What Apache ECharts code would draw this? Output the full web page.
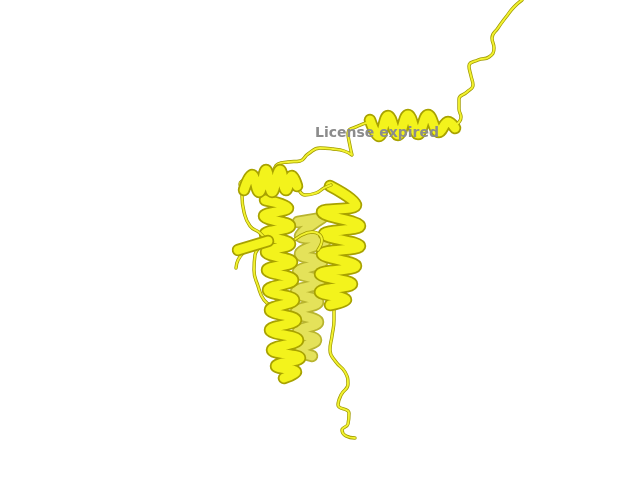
<!DOCTYPE html>
<html>
<head>
<meta charset="utf-8">
<script src="https://cdn.jsdelivr.net/npm/echarts@6/dist/echarts.min.js"></script>
<style>
  html,body{margin:0;padding:0;background:#fff}
  #main{width:640px;height:480px}
</style>
</head>
<body>
<div id="main"></div>
<script>
// traced ribbon path, picture coords (x right, y down)
const coilTop   = [[522,0],[514,7],[506,17],[498,28],[492,38],[494,48],[489,57],[478,60],[469,66],[471,76],[473,85],[467,92],[459,99],[459,109],[461,117],[456,125]];
const coilLink  = [[370,122],[358,126],[348,133],[350,146],[352,155],[344,151],[333,149],[320,148],[308,154],[300,161],[288,162],[278,164],[272,172],[264,178]];
const coilHat   = [[297,186],[305,195],[316,193],[324,188],[331,185]];
const coilLeft  = [[244,190],[240,184],[248,179],[242,196],[244,212],[250,226],[260,233],[266,240]];
const coilLoop  = [[262,246],[255,255],[254,270],[258,286],[264,300],[272,306]];
const coilTip   = [[244,252],[238,260],[236,268]];
const coilMid   = [[290,244],[300,236],[312,232],[322,240],[318,250]];
const coilTail  = [[334,304],[334,320],[332,336],[330,350],[336,362],[345,372],[348,384],[341,395],[338,405],[349,413],[348,424],[342,430],[346,436],[355,438]];

const helixFar  = [[370,120],[379,136],[388,116],[398,135],[408,115],[418,134],[428,115],[439,132],[448,122],[455,128]];
const helixHat  = [[244,190],[252,175],[259,192],[266,170],[272,192],[280,170],[286,190],[292,176],[297,186]];
const helixLeft = [[265,200],[288,208],[264,216],[290,226],[265,234],[290,244],[266,252],[292,262],[267,270],[293,280],[268,290],[294,300],[270,310],[296,320],[270,330],[298,340],[272,350],[300,358],[276,366],[296,372],[284,378]];
const helixMid  = [[298,222],[322,218],[300,236],[326,240],[300,254],[322,262],[298,272],[320,282],[296,292],[318,302],[296,312],[318,322],[298,332],[316,340],[300,350],[312,356]];
const helixRight= [[330,186],[356,205],[322,212],[360,226],[324,234],[360,246],[322,254],[356,266],[320,274],[352,284],[320,292],[346,300],[330,305]];
const strand    = [[238,250],[268,241]];

const chart = echarts.init(document.getElementById('main'));

function coil(data, z){
  return [
    {type:'line', data, smooth:0.5, showSymbol:false, silent:true, z:z,
     lineStyle:{color:'#a09a00', width:3.4, cap:'round', join:'round'}},
    {type:'line', data, smooth:0.5, showSymbol:false, silent:true, z:z+0.1,
     lineStyle:{color:'#f2f230', width:1.9, cap:'round', join:'round'}}
  ];
}
function helix(data, z, light){
  return [
    {type:'line', data, smooth:0.45, showSymbol:false, silent:true, z:z,
     lineStyle:{color:light ? '#b8b430' : '#a8a200', width:12.5, cap:'round', join:'round'}},
    {type:'line', data, smooth:0.45, showSymbol:false, silent:true, z:z+0.1,
     lineStyle:{color:light ? '#e4e25a' : '#f3f31c', width:9, cap:'round', join:'round'}}
  ];
}

chart.setOption({
  animation:false,
  title:{text:'License expired', left:310, top:121,
    textStyle:{fontFamily:'DejaVu Sans', fontSize:14, fontWeight:'bold', color:'#8c8c8c'}},
  grid:{left:0, right:0, top:0, bottom:0},
  xAxis:{type:'value', min:0, max:640, show:false},
  yAxis:{type:'value', min:0, max:480, inverse:true, show:false},
  series:[].concat(
    coil(coilTop, 2), coil(coilLink, 2), coil(coilTail, 2),
    coil(coilLoop, 2), coil(coilMid, 5),
    helix(helixMid, 3, true),
    helix(helixRight, 4),
    helix(helixLeft, 6),
    coil(coilLeft, 7), coil(coilHat, 7), coil(coilTip, 7),
    helix(strand, 8),
    helix(helixHat, 9),
    helix(helixFar, 2)
  )
});
</script>
</body>
</html>
